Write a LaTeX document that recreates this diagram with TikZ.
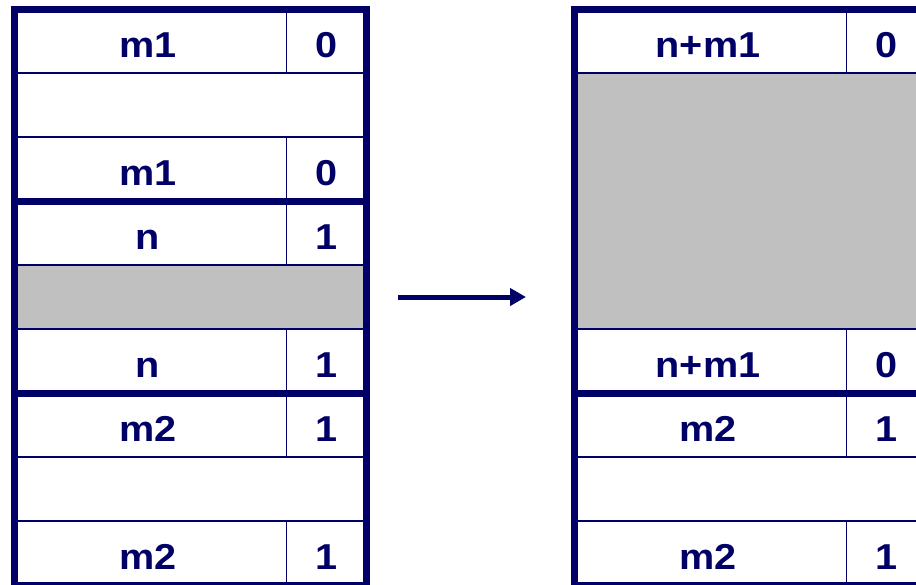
\documentclass[tikz,border=0pt]{standalone}
\usepackage{fontspec}
\setmainfont{Liberation Sans}[FakeStretch=1.1]
\usetikzlibrary{arrows.meta}
\definecolor{navy}{RGB}{0,0,102}
\definecolor{freegray}{RGB}{192,192,192}
\begin{document}
\begin{tikzpicture}[x=1pt,y=-1pt,
  thin line/.style={draw=navy,line width=1.5pt},
  thick line/.style={draw=navy,line width=7pt},
  lbl/.style={font=\fontsize{36}{36}\selectfont\bfseries,text=navy,anchor=base,inner sep=0pt},
  arr/.style={draw=navy,line width=5pt,-{Triangle[length=16pt,width=17pt]}}]
\useasboundingbox (0,0) rectangle (916,584);
\begin{scope}
\clip (0,0) rectangle (916,584);
% ---- left block ----
\fill[freegray] (14.5,265) rectangle (366.5,329);
\foreach \y in {73,137,265,329,457,521} \draw[thin line] (14.5,\y) -- (366.5,\y);
\foreach \a/\b in {9/73,137/201,201/265,329/393,393/457,521/585}
  \draw[thin line] (286.5,\a) -- (286.5,\b);
\draw[thick line] (14.5,9) rectangle (366.5,585);
\draw[thick line] (14.5,201) -- (366.5,201);
\draw[thick line] (14.5,393) -- (366.5,393);
% ---- right block ----
\fill[freegray] (574.5,73) rectangle (926.5,329);
\foreach \y in {73,329,457,521} \draw[thin line] (574.5,\y) -- (926.5,\y);
\foreach \a/\b in {9/73,329/393,393/457,521/585}
  \draw[thin line] (846.5,\a) -- (846.5,\b);
\draw[thick line] (574.5,9) rectangle (926.5,585);
\draw[thick line] (574.5,393) -- (926.5,393);
\end{scope}
% ---- left labels ----
\node[lbl] (l1a) at (148,57) {m1};
\node[lbl] (l1b) at (326.5,57) {0};
\node[lbl] (l2a) at (148,185) {m1};
\node[lbl] (l2b) at (326.5,185) {0};
\node[lbl] (l3a) at (148,249) {n};
\node[lbl] (l3b) at (326.5,249) {1};
\node[lbl] (l4a) at (148,377) {n};
\node[lbl] (l4b) at (326.5,377) {1};
\node[lbl] (l5a) at (148,441) {m2};
\node[lbl] (l5b) at (326.5,441) {1};
\node[lbl] (l6a) at (148,569) {m2};
\node[lbl] (l6b) at (326.5,569) {1};
% ---- right labels ----
\node[lbl] (r1a) at (708,57) {n+m1};
\node[lbl] (r1b) at (886.5,57) {0};
\node[lbl] (r2a) at (708,377) {n+m1};
\node[lbl] (r2b) at (886.5,377) {0};
\node[lbl] (r3a) at (708,441) {m2};
\node[lbl] (r3b) at (886.5,441) {1};
\node[lbl] (r4a) at (708,569) {m2};
\node[lbl] (r4b) at (886.5,569) {1};
% ---- arrow ----
\coordinate (as) at (398,297);
\coordinate (ae) at (526,297);
\draw[arr] (as) -- (ae);
\end{tikzpicture}
\end{document}
